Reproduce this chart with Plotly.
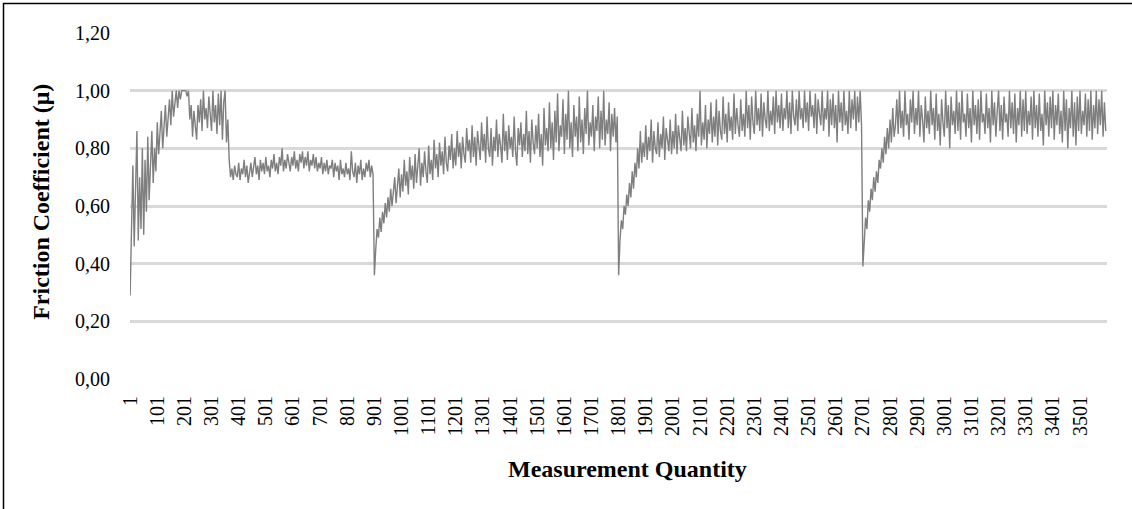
import plotly.graph_objects as go

sample_step = 5

mu_run1 = [0.29, 0.55, 0.74, 0.46, 0.62, 0.86, 0.48, 0.70, 0.52, 0.80,
           0.50, 0.76, 0.58, 0.84, 0.62, 0.73, 0.86, 0.68, 0.80, 0.72,
           0.89, 0.78, 0.84, 0.93, 0.80, 0.88, 0.95, 0.84, 0.92, 0.97,
           0.88, 1.00, 0.91, 0.97, 1.00, 0.94, 1.00, 0.97, 1.00, 1.00,
           1.00, 1.00, 0.98, 1.00, 0.90, 0.95, 0.84, 0.93, 0.88, 0.83,
           0.95, 0.89, 0.97, 0.86, 1.00, 0.90, 0.94, 0.87, 0.98, 0.91,
           0.86, 1.00, 0.89, 0.95, 0.85, 0.99, 0.88, 1.00, 0.83, 0.96,
           1.00, 0.82, 0.90, 0.76, 0.70, 0.73, 0.69, 0.74, 0.71, 0.70,
           0.75, 0.69, 0.73, 0.71, 0.76, 0.70, 0.74, 0.68, 0.72, 0.75,
           0.70, 0.73, 0.77, 0.71, 0.74, 0.69, 0.76, 0.72, 0.75, 0.71,
           0.77, 0.72, 0.74, 0.70, 0.76, 0.73, 0.78, 0.72, 0.75, 0.71,
           0.77, 0.74, 0.80, 0.72, 0.76, 0.73, 0.78, 0.75, 0.72, 0.77,
           0.74, 0.79, 0.73, 0.76, 0.72, 0.78, 0.75, 0.79, 0.73, 0.77,
           0.74, 0.79, 0.72, 0.76, 0.74, 0.78, 0.73, 0.77, 0.72, 0.75,
           0.73, 0.77, 0.71, 0.75, 0.72, 0.76, 0.71, 0.74, 0.73, 0.76,
           0.70, 0.75, 0.72, 0.74, 0.69, 0.76, 0.71, 0.73, 0.70, 0.75,
           0.71, 0.73, 0.69, 0.79, 0.72, 0.70, 0.75, 0.68, 0.74, 0.71,
           0.76, 0.69, 0.73, 0.70, 0.75, 0.72, 0.76, 0.70, 0.74, 0.71]

mu_run2 = [0.36, 0.45, 0.52, 0.49, 0.56, 0.51, 0.58, 0.54, 0.61, 0.56,
           0.63, 0.58, 0.66, 0.60, 0.64, 0.70, 0.61, 0.68, 0.73, 0.63,
           0.71, 0.65, 0.76, 0.67, 0.72, 0.64, 0.77, 0.69, 0.74, 0.66,
           0.78, 0.68, 0.73, 0.80, 0.67, 0.75, 0.70, 0.79, 0.72, 0.68,
           0.81, 0.71, 0.76, 0.69, 0.83, 0.73, 0.78, 0.70, 0.82, 0.74,
           0.79, 0.71, 0.84, 0.75, 0.72, 0.81, 0.76, 0.85, 0.73, 0.80,
           0.74, 0.86, 0.77, 0.82, 0.73, 0.84, 0.78, 0.75, 0.87, 0.79,
           0.83, 0.75, 0.88, 0.77, 0.84, 0.74, 0.86, 0.80, 0.76, 0.89,
           0.79, 0.85, 0.75, 0.91, 0.80, 0.77, 0.87, 0.74, 0.84, 0.79,
           0.90, 0.77, 0.85, 0.81, 0.75, 0.92, 0.79, 0.86, 0.76, 0.88,
           0.80, 0.84, 0.77, 0.91, 0.79, 0.74, 0.87, 0.81, 0.89, 0.77,
           0.85, 0.79, 0.93, 0.78, 0.86, 0.75, 0.90, 0.82, 0.78, 0.88,
           0.80, 0.92, 0.77, 0.85, 0.74, 0.94, 0.81, 0.87, 0.79, 0.96,
           0.80, 0.89, 0.76, 0.93, 0.82, 0.99, 0.79, 0.88, 0.84, 0.97,
           0.78, 0.92, 0.83, 1.00, 0.80, 0.89, 0.77, 0.95, 0.84, 0.91,
           0.79, 0.98, 0.82, 0.90, 0.78, 0.94, 0.85, 1.00, 0.81, 0.89,
           0.84, 0.95, 0.79, 0.91, 0.86, 0.98, 0.80, 0.93, 0.83, 1.00,
           0.81, 0.90, 0.85, 0.96, 0.79, 0.92, 0.84, 0.94, 0.82, 0.91]

mu_run3 = [0.36, 0.48, 0.55, 0.52, 0.60, 0.57, 0.64, 0.60, 0.68, 0.63,
           0.72, 0.66, 0.75, 0.70, 0.80, 0.73, 0.86, 0.75, 0.82, 0.77,
           0.88, 0.76, 0.84, 0.79, 0.90, 0.75, 0.86, 0.80, 0.78, 0.89,
           0.77, 0.85, 0.80, 0.91, 0.76, 0.87, 0.82, 0.79, 0.90, 0.78,
           0.86, 0.80, 0.92, 0.78, 0.88, 0.83, 0.79, 0.93, 0.81, 0.87,
           0.79, 0.91, 0.84, 0.80, 0.94, 0.82, 0.88, 0.79, 0.92, 0.84,
           1.00, 0.81, 0.89, 0.83, 0.95, 0.80, 0.90, 0.85, 0.96, 0.82,
           0.91, 0.84, 0.97, 0.81, 0.93, 0.86, 0.83, 0.98, 0.85, 0.92,
           0.82, 0.96, 0.86, 0.91, 0.83, 0.99, 0.85, 0.94, 0.88, 0.84,
           0.97, 0.86, 0.92, 0.84, 1.00, 0.87, 0.95, 0.83, 0.98, 0.89,
           0.85, 1.00, 0.88, 0.94, 0.86, 0.99, 0.84, 0.96, 0.90, 0.87,
           1.00, 0.86, 0.93, 0.88, 0.98, 0.85, 1.00, 0.89, 0.95, 0.87,
           0.99, 0.86, 0.94, 0.90, 1.00, 0.87, 0.96, 0.85, 1.00, 0.91,
           0.88, 0.97, 0.86, 1.00, 0.90, 0.94, 0.87, 1.00, 0.89, 0.96,
           0.86, 1.00, 0.91, 0.95, 0.87, 0.99, 0.85, 0.97, 0.92, 0.88,
           1.00, 0.86, 0.94, 0.90, 1.00, 0.84, 0.97, 0.88, 0.99, 0.87,
           0.95, 0.82, 1.00, 0.89, 0.96, 0.86, 1.00, 0.88, 0.93, 0.85,
           1.00, 0.87, 0.97, 0.90, 1.00, 0.86, 0.98, 0.89, 1.00, 0.88]

mu_run4 = [0.39, 0.47, 0.56, 0.52, 0.62, 0.58, 0.66, 0.62, 0.70, 0.65,
           0.72, 0.68, 0.76, 0.73, 0.80, 0.75, 0.84, 0.78, 0.87, 0.80,
           0.90, 0.82, 0.94, 0.84, 0.88, 0.97, 0.85, 1.00, 0.87, 0.93,
           0.84, 1.00, 0.88, 0.92, 0.83, 0.97, 0.89, 1.00, 0.85, 0.94,
           0.88, 1.00, 0.84, 0.95, 0.90, 0.82, 0.98, 0.87, 0.93, 0.85,
           1.00, 0.88, 0.94, 0.83, 0.99, 0.86, 0.92, 0.81, 0.97, 0.89,
           0.84, 1.00, 0.87, 0.95, 0.80, 0.98, 0.88, 0.93, 0.85, 1.00,
           0.86, 0.96, 0.83, 1.00, 0.89, 0.92, 0.84, 0.99, 0.87, 0.94,
           0.82, 1.00, 0.88, 0.95, 0.85, 0.97, 0.83, 1.00, 0.89, 0.92,
           0.85, 0.99, 0.87, 0.94, 0.82, 1.00, 0.88, 0.96, 0.84, 0.93,
           1.00, 0.86, 0.95, 0.83, 0.98, 0.89, 0.92, 0.84, 1.00, 0.87,
           0.96, 0.85, 0.99, 0.82, 0.94, 0.88, 1.00, 0.84, 0.97, 0.86,
           1.00, 0.85, 0.93, 0.88, 0.98, 0.83, 1.00, 0.87, 0.95, 0.84,
           0.99, 0.86, 0.92, 0.81, 1.00, 0.88, 0.96, 0.84, 0.98, 0.87,
           1.00, 0.83, 0.95, 0.88, 0.99, 0.85, 0.93, 0.82, 1.00, 0.86,
           0.97, 0.80, 0.94, 0.87, 1.00, 0.84, 0.96, 0.81, 0.98, 0.86,
           1.00, 0.85, 0.93, 0.88, 0.99, 0.84, 0.97, 0.86, 1.00, 0.83,
           0.95, 0.87, 1.00, 0.85, 0.97, 0.88, 1.00, 0.84, 0.96, 0.86]

mu_values = mu_run1 + mu_run2 + mu_run3 + mu_run4
measurement_index = [1 + sample_step * k for k in range(len(mu_values))]
n_measurements = 3600

x_tick_values = list(range(1, 3502, 100))
x_tick_labels = [str(v) for v in x_tick_values]
y_tick_values = [0.0, 0.2, 0.4, 0.6, 0.8, 1.0, 1.2]
y_tick_labels = ["0,00", "0,20", "0,40", "0,60", "0,80", "1,00", "1,20"]

FONT = "Liberation Serif, Times New Roman, serif"

fig = go.Figure()
fig.add_trace(go.Scatter(
    x=measurement_index, y=mu_values, mode="lines",
    line=dict(color="#7f7f7f", width=1.4),
    showlegend=False, hoverinfo="skip",
))

# plot area: left 130, right 1107, top 33, bottom 379.3 (px)
L, R, T, B = 130, 1107, 33, 379.3
W, H = R - L, B - T

def px_x(p):
    return (p - L) / W

def px_y(p):
    return (B - p) / H

fig.update_layout(
    width=1132, height=509,
    margin=dict(l=L, r=1132 - R, t=T, b=509 - B),
    paper_bgcolor="white", plot_bgcolor="white",
    font=dict(family=FONT, color="black", size=20),
    xaxis=dict(
        range=[0.5, n_measurements + 0.5],
        tickmode="array", tickvals=x_tick_values, ticktext=x_tick_labels,
        tickangle=-90, tickfont=dict(size=20, family=FONT),
        showgrid=False, zeroline=False, showline=False, ticks="",
        ticklabelstandoff=12,
    ),
    yaxis=dict(
        range=[0, 1.2],
        tickmode="array", tickvals=y_tick_values, ticktext=y_tick_labels,
        tickfont=dict(size=20, family=FONT),
        showgrid=True, gridcolor="#d9d9d9", gridwidth=2.5,
        zeroline=False, showline=False, ticks="",
        ticklabelstandoff=19,
    ),
    annotations=[
        dict(text="<b>Friction Coefficient (μ)</b>", xref="paper", yref="paper",
             x=px_x(41), y=px_y(202), showarrow=False, textangle=-90,
             font=dict(size=24, family=FONT), xanchor="center", yanchor="middle"),
        dict(text="<b>Measurement Quantity</b>", xref="paper", yref="paper",
             x=px_x(627), y=px_y(469), showarrow=False,
             font=dict(size=24, family=FONT), xanchor="center", yanchor="middle"),
    ],
    shapes=[
        dict(type="rect", xref="paper", yref="paper",
             x0=px_x(3.5), x1=px_x(1145), y0=px_y(530), y1=px_y(3.5),
             line=dict(color="black", width=1.5), fillcolor="rgba(0,0,0,0)",
             layer="above"),
    ],
)

fig.write_html(
    "out.html",
    config={"displayModeBar": False},
    post_script="document.body.style.margin='0px';document.body.style.overflow='hidden';",
)
